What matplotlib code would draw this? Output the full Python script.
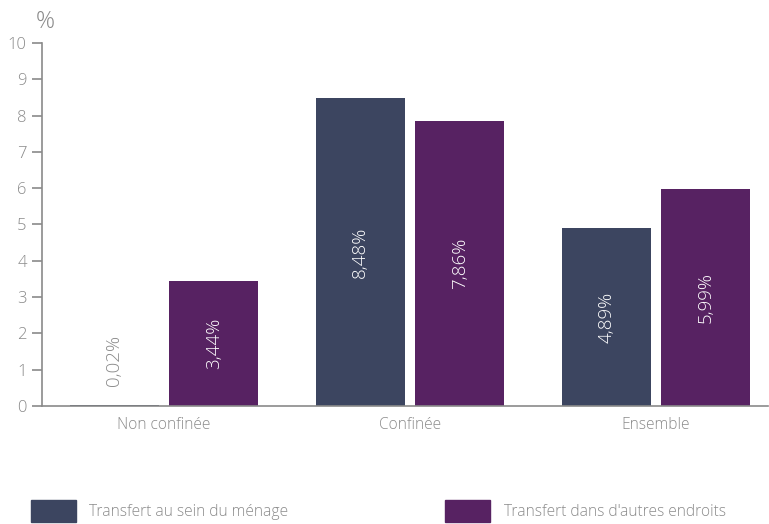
import numpy as np
import matplotlib.pyplot as plt
from matplotlib.patches import Patch

categories = ["Non confinée", "Confinée", "Ensemble"]
menage = [0.02, 8.48, 4.89]
autres = [3.44, 7.86, 5.99]
series_names = ["Transfert au sein du ménage", "Transfert dans d'autres endroits"]

col_menage = "#3c4560"
col_autres = "#572262"
grey = "#8a8a8a"

plt.rcParams['font.family'] = ['Open Sans', 'DejaVu Sans']
plt.rcParams['font.weight'] = 'light'

fig = plt.figure(figsize=(7.69, 5.24), dpi=100)
ax = fig.add_axes([0.0546, 0.2252, 0.944, 0.6928])

x = np.arange(len(categories))
width = 0.362
offset = 0.202

b1 = ax.bar(x - offset, menage, width, color=col_menage)
b2 = ax.bar(x + offset, autres, width, color=col_autres)

def fmt(v):
    return f"{v:.2f}%".replace(".", ",")

for bars, vals in [(b1, menage), (b2, autres)]:
    for bar, v in zip(bars, vals):
        cx = bar.get_x() + bar.get_width() / 2
        if v < 1:
            ax.text(cx, 0.55, fmt(v), rotation=90, ha="center", va="bottom",
                    color=grey, fontsize=13.5)
        else:
            ax.text(cx, v / 2, fmt(v), rotation=90, ha="center", va="center",
                    color="white", fontsize=13.5)

ax.set_ylim(0, 10)
ax.set_xlim(-0.496, 2.455)
ax.set_yticks(range(0, 11))
ax.set_xticks(x)
ax.set_xticklabels(categories)

for s in ["top", "right"]:
    ax.spines[s].set_visible(False)
for s in ["left", "bottom"]:
    ax.spines[s].set_color(grey)
    ax.spines[s].set_linewidth(1.2)

ax.tick_params(axis="y", colors=grey, labelcolor=grey, labelsize=12, length=7, width=1.2, pad=4)
ax.tick_params(axis="x", length=0, labelcolor=grey, labelsize=11.2, pad=8)

fig.text(0.046, 0.958, "%", color=grey, fontsize=17, ha="left", va="center")

handles = [Patch(color=col_menage), Patch(color=col_autres)]
fig.legend(handles, series_names, loc="lower left", bbox_to_anchor=(0.022, -0.022),
           ncol=2, frameon=False, fontsize=11.2, handlelength=2.9, handleheight=1.74,
           handletextpad=0.84, columnspacing=10.1, labelcolor=grey)

fig.savefig("out.png", dpi=100)
